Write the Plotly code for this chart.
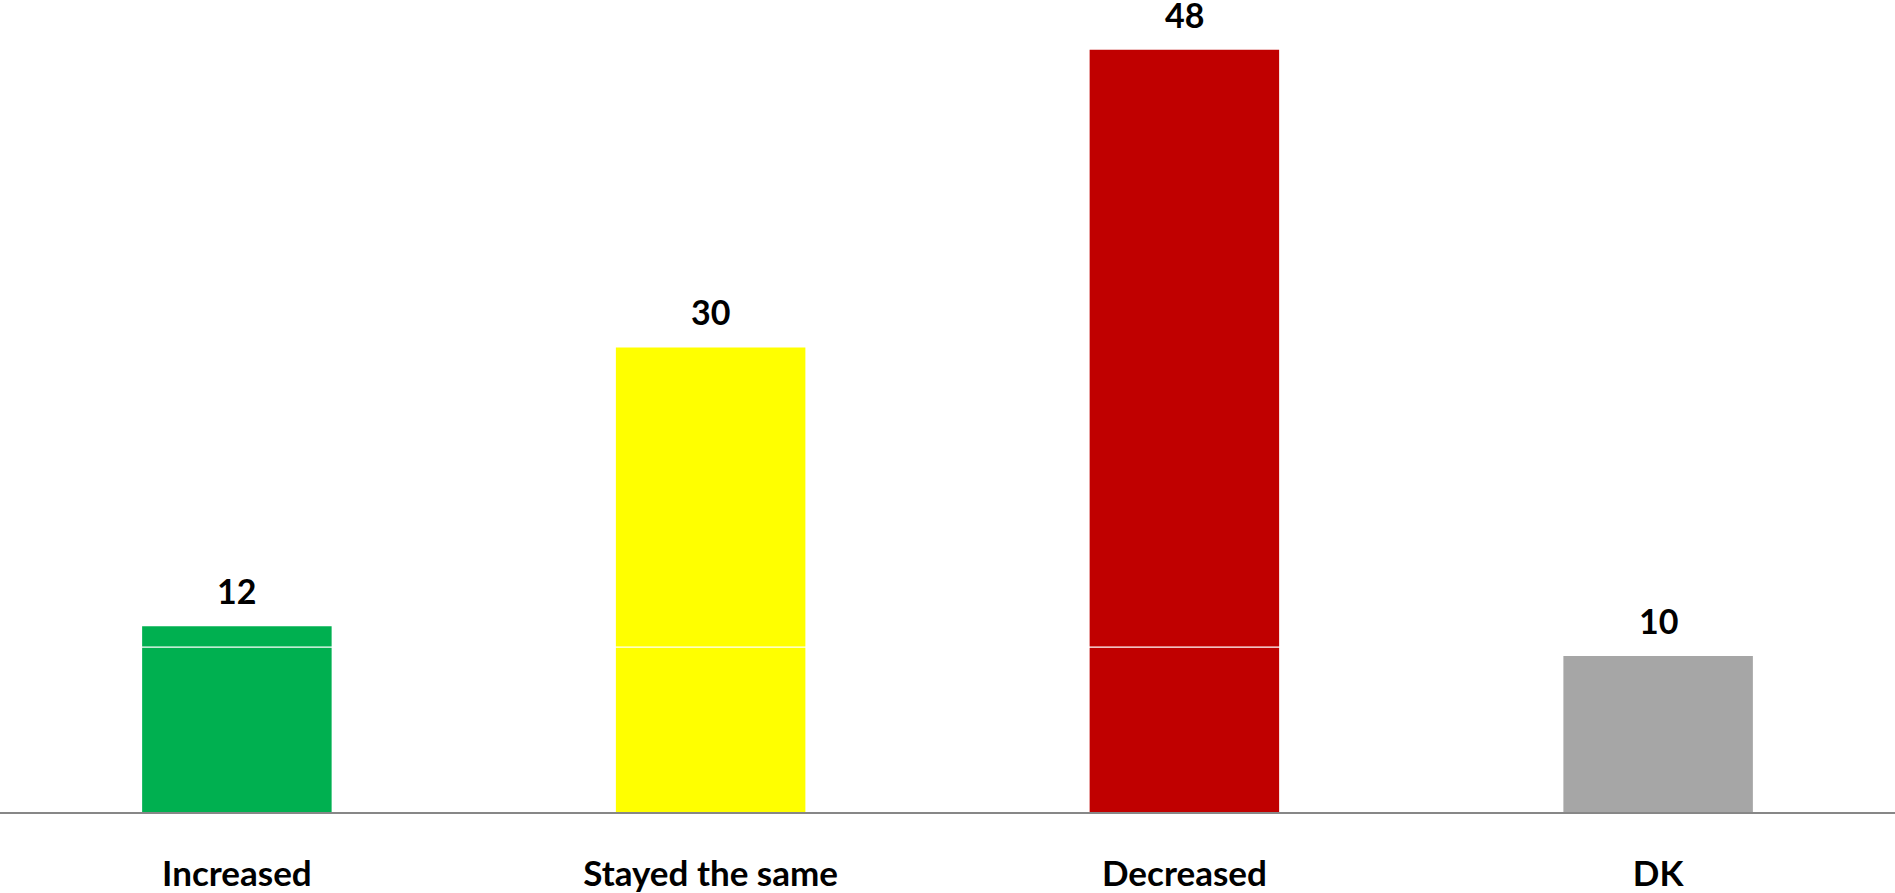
import plotly.graph_objects as go

categories = ["Increased", "Stayed the same", "Decreased", "DK"]
values = [11.8, 29.5, 48.4, 9.9]
colors = ["#00B050", "#FFFF00", "#C00000", "#A6A6A6"]
white_line_level = 10.47

FONT = "Lato"

fig = go.Figure()
fig.add_trace(go.Bar(
    x=categories, y=values,
    marker=dict(color=colors, line=dict(width=0)),
    width=0.4,
    showlegend=False,
    hoverinfo="skip",
))

for c, v in zip(categories, values):
    fig.add_annotation(
        x=c, y=v, text=f"<b>{v:.0f}</b>", showarrow=False,
        yanchor="bottom", yshift=13,
        font=dict(family=FONT, size=34, color="#000000"),
    )

fig.add_shape(
    type="line", xref="paper", x0=0, x1=1, yref="y",
    y0=white_line_level, y1=white_line_level,
    line=dict(color="#FFFFFF", width=1.2), layer="above",
)

fig.update_layout(
    width=1895, height=893,
    margin=dict(l=0, r=0, t=0, b=77),
    paper_bgcolor="#FFFFFF", plot_bgcolor="#FFFFFF",
    bargap=0.6,
    xaxis=dict(
        showline=True, linecolor="#878787", linewidth=2,
        ticks="outside", ticklen=30, tickcolor="rgba(0,0,0,0)",
        tickfont=dict(family=FONT, size=35, color="#000000"),
        tickprefix="<b>", ticksuffix="</b>",
        showgrid=False,
    ),
    yaxis=dict(
        range=[0, 51.56], visible=False, showgrid=False, zeroline=False,
    ),
)

fig.write_html(
    "out.html",
    config={"displayModeBar": False},
    post_script="document.body.style.margin='0';document.body.style.overflow='hidden';",
)
